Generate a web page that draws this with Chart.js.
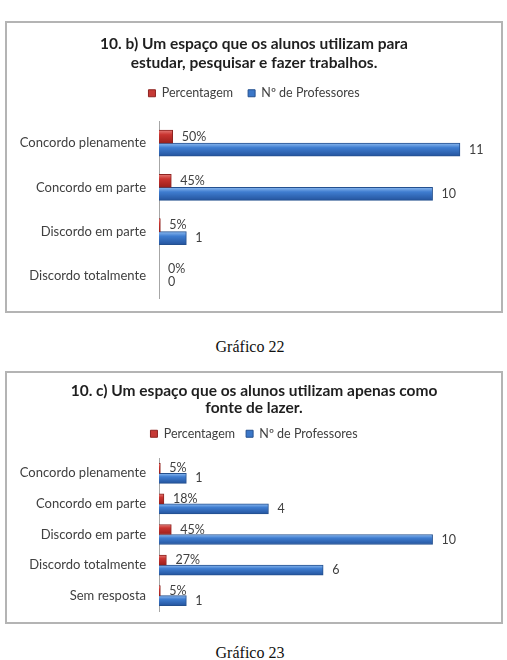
<!DOCTYPE html>
<html>
<head>
<meta charset="utf-8">
<script src="https://cdn.jsdelivr.net/npm/chart.js@4/dist/chart.umd.min.js"></script>
<style>
  body { margin: 0; background: #fff; width: 507px; height: 660px; position: relative; overflow: hidden; }
  .box { position: absolute; left: 5px; width: 494px; border: 2px solid #b4b4b4; background: #fff; }
  .box canvas { display: block; }
  .caption { position: absolute; left: 0; width: 500px; text-align: center;
    font-family: "Liberation Serif", "Times New Roman", serif; font-size: 16px; color: #111; }
</style>
</head>
<body>
<div class="box" style="top:21px;height:288px;"><canvas id="chart1"></canvas></div>
<div class="caption" style="top:338px;">Gráfico 22</div>
<div class="box" style="top:371px;height:249px;"><canvas id="chart2"></canvas></div>
<div class="caption" style="top:644px;">Gráfico 23</div>

<script>
/* DATA */

const seriesNames = ["Percentagem", "Nº de Professores"];

const titleB = ["10. b) Um espaço que os alunos utilizam para", "estudar, pesquisar e fazer trabalhos."];
const categoriesB = ["Concordo plenamente", "Concordo em parte", "Discordo em parte", "Discordo totalmente"];
const percentB = [0.50, 0.45, 0.05, 0];
const teachersB = [11, 10, 1, 0];

const titleC = ["10. c) Um espaço que os alunos utilizam apenas como", "fonte de lazer."];
const categoriesC = ["Concordo plenamente", "Concordo em parte", "Discordo em parte", "Discordo totalmente", "Sem resposta"];
const percentC = [0.05, 0.18, 0.45, 0.27, 0.05];
const teachersC = [1, 4, 10, 6, 1];

const FONT = "Lato, 'Open Sans', sans-serif";

/* BAR SHADING (cylinder look) */

const shades = [
  ["#e47a76", "#c93430", "#9c1f1c"],
  ["#8dbaf0", "#3f7dd0", "#24549e"]
];

const barShading = {
  id: "barShading",
  beforeDatasetsDraw(chart) {
    const ctx = chart.ctx;
    chart.data.datasets.forEach((ds, i) => {
      chart.getDatasetMeta(i).data.forEach(bar => {
        const h = bar.height;
        const g = ctx.createLinearGradient(0, bar.y - h / 2, 0, bar.y + h / 2);
        g.addColorStop(0, shades[i][0]);
        g.addColorStop(0.35, shades[i][1]);
        g.addColorStop(1, shades[i][2]);
        bar.options = Object.assign({}, bar.options, { backgroundColor: g });
      });
    });
  }
};

/* VALUE LABELS */

const valueLabels = {
  id: "valueLabels",
  afterDatasetsDraw(chart) {
    const ctx = chart.ctx;
    ctx.save();
    ctx.font = "12.5px " + FONT;
    ctx.fillStyle = "#404040";
    ctx.textAlign = "left";
    ctx.textBaseline = "middle";
    chart.data.datasets.forEach((ds, i) => {
      chart.getDatasetMeta(i).data.forEach((bar, j) => {
        const v = ds.data[j];
        const txt = i === 0 ? Math.round(v * 100) + "%" : String(v);
        ctx.fillText(txt, bar.x + 9, bar.y);
      });
    });
    ctx.restore();
  }
};

/* CHARTS */

function makeChart(id, w, h, cfg) {
  const canvas = document.getElementById(id);
  canvas.width = w;
  canvas.height = h;
  return new Chart(canvas, {
    type: "bar",
    data: {
      labels: cfg.cats,
      datasets: [
        { label: seriesNames[0], data: cfg.pct, backgroundColor: "#c63a36", borderColor: "#8e2421",
          borderWidth: 1, barThickness: cfg.thickness },
        { label: seriesNames[1], data: cfg.cnt, backgroundColor: "#3b77c8", borderColor: "#24508f",
          borderWidth: 1, barThickness: cfg.thickness }
      ]
    },
    options: {
      indexAxis: "y",
      responsive: false,
      animation: false,
      layout: { padding: { left: 0, right: 0, top: 0, bottom: cfg.padBottom } },
      plugins: {
        title: {
          display: true,
          text: cfg.title,
          color: "#1f1f1f",
          font: { family: FONT, size: 15.5, weight: "bold", lineHeight: cfg.titleLine + "px" },
          padding: { top: cfg.titleTop, bottom: 0 }
        },
        legend: {
          position: "top",
          labels: {
            boxWidth: 7, boxHeight: 7,
            color: "#404040",
            font: { family: FONT, size: 12.5 },
            padding: cfg.legendPad
          }
        },
        // empty spacer between legend and plot
        subtitle: {
          display: true,
          text: " ",
          weight: 500,
          font: { size: 1, lineHeight: "1px" },
          padding: { top: 0, bottom: cfg.gap }
        },
        tooltip: { enabled: false }
      },
      scales: {
        x: { display: false, min: 0, max: 12.5 },
        y: {
          grid: { drawOnChartArea: false, drawTicks: false },
          border: { color: "#a6a6a6", width: 1 },
          ticks: { color: "#404040", padding: 13, font: { family: FONT, size: 13 } },
          afterFit(scale) {
            scale.width = 152;
            scale.paddingTop = 0;
            scale.paddingBottom = 0;
          }
        }
      }
    },
    plugins: [barShading, valueLabels]
  });
}

makeChart("chart1", 494, 288, {
  title: titleB, cats: categoriesB, pct: percentB, cnt: teachersB,
  thickness: 13, titleTop: 11, titleLine: 19, legendPad: 15, gap: 10.5, padBottom: 13
});
makeChart("chart2", 494, 249, {
  title: titleC, cats: categoriesC, pct: percentC, cnt: teachersC,
  thickness: 10, titleTop: 9.5, titleLine: 17, legendPad: 11, gap: 7, padBottom: 11
});
</script>
</body>
</html>
